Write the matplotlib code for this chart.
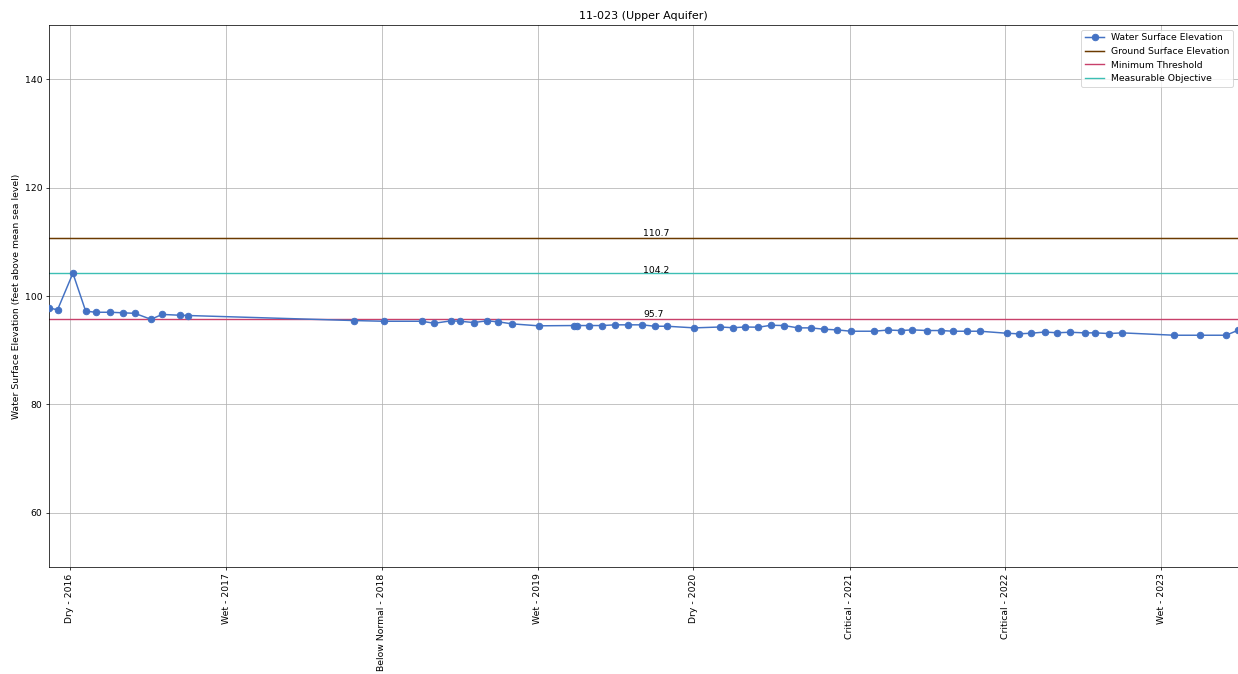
import matplotlib
matplotlib.use("Agg")
import matplotlib.pyplot as plt
import matplotlib.transforms as mtransforms
import pandas as pd

# Well 11-023 water surface elevation measurements
dates = [
    "2015-11-13", "2015-12-03", "2016-01-08", "2016-02-07", "2016-03-02",
    "2016-04-04", "2016-05-05", "2016-06-01", "2016-07-09", "2016-08-04",
    "2016-09-15", "2016-10-04", "2017-10-28", "2018-01-05", "2018-04-04",
    "2018-05-04", "2018-06-12", "2018-07-04", "2018-08-04", "2018-09-04",
    "2018-10-01", "2018-11-02", "2019-01-03", "2019-03-26", "2019-04-03",
    "2019-05-02", "2019-06-01", "2019-07-02", "2019-08-01", "2019-09-03",
    "2019-10-02", "2019-10-31", "2020-01-03", "2020-03-04", "2020-04-02",
    "2020-05-02", "2020-06-01", "2020-07-01", "2020-07-31", "2020-09-02",
    "2020-10-02", "2020-11-02", "2020-12-02", "2021-01-04", "2021-02-27",
    "2021-04-01", "2021-05-02", "2021-05-28", "2021-07-02", "2021-08-02",
    "2021-09-01", "2021-10-04", "2021-11-02", "2022-01-04", "2022-02-01",
    "2022-03-02", "2022-04-03", "2022-05-02", "2022-06-01", "2022-07-06",
    "2022-07-30", "2022-09-01", "2022-10-01", "2023-02-01", "2023-04-03",
    "2023-06-02", "2023-06-30",
]
water_elev = [
    97.8, 97.45, 104.2, 97.2, 97.0,
    97.0, 96.9, 96.8, 95.7, 96.6,
    96.45, 96.4, 95.47, 95.34, 95.34,
    94.97, 95.42, 95.34, 95.1, 95.42,
    95.23, 94.86, 94.5, 94.55, 94.55,
    94.55, 94.55, 94.68, 94.68, 94.68,
    94.42, 94.42, 94.12, 94.28, 94.15,
    94.28, 94.24, 94.6, 94.55, 94.12,
    94.12, 93.87, 93.75, 93.5, 93.5,
    93.72, 93.63, 93.75, 93.63, 93.63,
    93.5, 93.5, 93.5, 93.13, 93.02,
    93.13, 93.35, 93.22, 93.31, 93.2,
    93.2, 93.07, 93.2, 92.76, 92.76,
    92.76, 93.68,
]

ground_surface = 110.7
minimum_threshold = 95.7
measurable_objective = 104.2

tick_dates = ["2016-01-01", "2017-01-01", "2018-01-01", "2019-01-01",
              "2020-01-01", "2021-01-01", "2022-01-01", "2023-01-01"]
tick_labels = ["Dry - 2016", "Wet - 2017", "Below Normal - 2018", "Wet - 2019",
               "Dry - 2020", "Critical - 2021", "Critical - 2022", "Wet - 2023"]

dt = pd.to_datetime(dates)
ticks = pd.to_datetime(tick_dates)

DPI = 67
fig = plt.figure(figsize=(1238 / DPI, 674 / DPI), dpi=DPI)
ax = fig.add_axes([49 / 1238, 1 - 567 / 674, (1238 - 49) / 1238, (567 - 25) / 674])

ax.plot(dt, water_elev, color="#4472C4", marker="o", markersize=7,
        linewidth=1.6, label="Water Surface Elevation", zorder=3)
ax.axhline(ground_surface, color="#6B3A00", linewidth=1.6,
           label="Ground Surface Elevation")
ax.axhline(minimum_threshold, color="#C8406A", linewidth=1.5,
           label="Minimum Threshold")
ax.axhline(measurable_objective, color="#3CBFB4", linewidth=1.5,
           label="Measurable Objective")

trans = mtransforms.blended_transform_factory(ax.transAxes, ax.transData)
ax.text(0.5, ground_surface, f"{ground_surface}", transform=trans,
        ha="left", va="bottom")
ax.text(0.5, measurable_objective, f"{measurable_objective}", transform=trans,
        ha="left", va="baseline")
ax.text(0.5, minimum_threshold, f"{minimum_threshold}", transform=trans,
        ha="left", va="bottom")

ax.set_xlim(dt[0], dt[-1])
ax.set_ylim(50, 150)
ax.set_xticks(ticks)
ax.set_xticklabels(tick_labels, rotation=90)
ax.set_ylabel("Water Surface Elevation (feet above mean sea level)")
ax.set_title("11-023 (Upper Aquifer)")
ax.grid(True)
ax.legend(loc="upper right")

fig.savefig("out.png", dpi=DPI)
